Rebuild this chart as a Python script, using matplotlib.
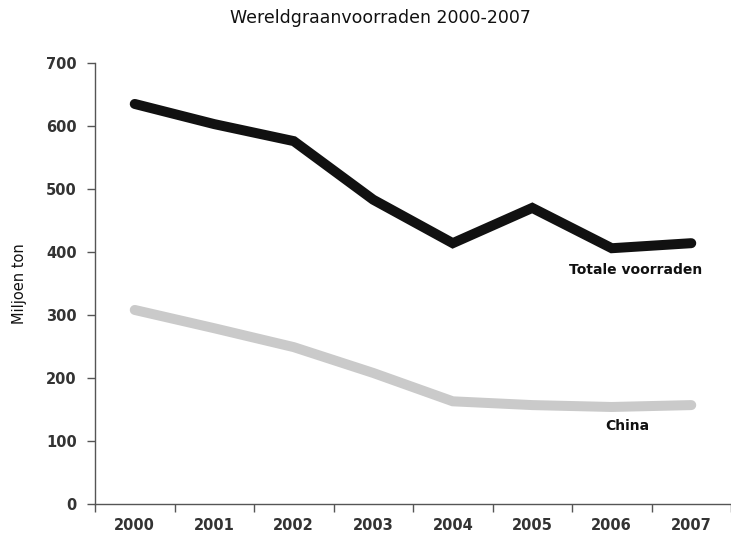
import numpy as np
import matplotlib
matplotlib.use('Agg')
import matplotlib.pyplot as plt

# wereldgraanvoorraden, miljoen ton
jaren = ['2000', '2001', '2002', '2003', '2004', '2005', '2006', '2007']
totaal = [635, 603, 576, 483, 414, 470, 406, 414]
china = [308, 279, 249, 208, 163, 157, 154, 157]

x = np.arange(len(jaren))

fig = plt.figure(figsize=(7.31, 5.36), dpi=100)
ax = fig.add_axes([95/731, 32/536, 636/731, 441/536])

ax.plot(x, totaal, color='#111111', lw=7.2, solid_capstyle='round', solid_joinstyle='miter')
ax.plot(x, china, color='#cacaca', lw=7.2, solid_capstyle='round', solid_joinstyle='miter')

ax.text(6.30, 371, 'Totale voorraden', ha='center', va='center',
        fontsize=10, fontweight='bold', color='#111111')
ax.text(6.2, 124, 'China', ha='center', va='center',
        fontsize=10, fontweight='bold', color='#111111')

ax.set_xlim(-0.5, 7.41)
ax.set_ylim(0, 700)
ax.set_yticks(np.arange(0, 701, 100))
ax.set_xticks(x)
ax.set_xticklabels(jaren)
ax.set_xticks(np.arange(-0.5, 7.6, 1), minor=True)

for s in ['top', 'right']:
    ax.spines[s].set_visible(False)
for s in ['left', 'bottom']:
    ax.spines[s].set_color('#555555')
    ax.spines[s].set_linewidth(1.0)

ax.tick_params(axis='y', length=6, width=1, color='#555555', pad=7,
               labelsize=10.5, labelcolor='#333333')
ax.tick_params(axis='x', which='major', length=0, pad=10,
               labelsize=10.5, labelcolor='#333333')
ax.tick_params(axis='x', which='minor', length=6, width=1, color='#555555')
for lab in ax.get_xticklabels() + ax.get_yticklabels():
    lab.set_fontweight('bold')

ax.set_ylabel('Miljoen ton', fontsize=10.5, color='#111111', labelpad=14)
fig.text(380/731, 1 - 18/536, 'Wereldgraanvoorraden 2000-2007', ha='center', va='center',
         fontsize=12.5, color='#111111')

fig.savefig('out.png', dpi=100)
